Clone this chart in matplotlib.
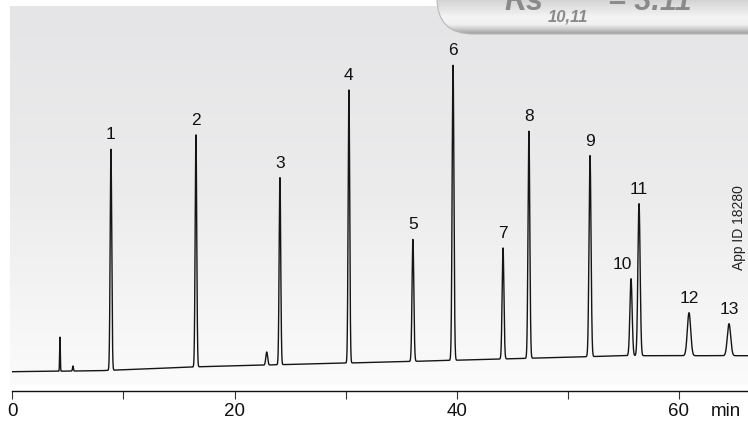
import numpy as np
import matplotlib
matplotlib.use('Agg')
import matplotlib.pyplot as plt
from matplotlib import font_manager
from matplotlib.patches import FancyBboxPatch
from matplotlib.colors import LinearSegmentedColormap

# ---------------- data ----------------
peak_ids = ['1', '2', '3', '4', '5', '6', '7', '8', '9', '10', '11', '12', '13']
peak_times = [8.88, 16.53, 24.09, 30.30, 36.06, 39.67, 44.17, 46.50, 52.00, 55.69, 56.41, 60.91, 64.51]
peak_heights = [221, 232, 187, 273, 122, 295, 111, 227, 201, 77, 152, 43, 32]
peak_sigmas = [0.07, 0.07, 0.07, 0.07, 0.08, 0.08, 0.08, 0.08, 0.09, 0.10, 0.10, 0.15, 0.15]

minor_times = [4.29, 5.46, 22.90]
minor_heights = [34, 5, 13]
minor_sigmas = [0.03, 0.04, 0.08]

baseline_times = [0, 8, 10, 17, 24, 35, 45, 55, 66.2]
baseline_levels = [19, 20, 21, 24, 26, 29, 32, 35, 35]

x_ticks = [0, 10, 20, 30, 40, 50, 60]
x_tick_labels = ['0', '', '20', '', '40', '', '60']
x_unit = 'min'
rs_main = 'Rs'
rs_sub = '10,11'
rs_value = '= 3.11'
app_id = 'App ID 18280'

# ---------------- fonts ----------------
names = {f.name for f in font_manager.fontManager.ttflist}
narrow = 'Liberation Sans Narrow' if 'Liberation Sans Narrow' in names else 'Liberation Sans'
sans = 'Liberation Sans'

W, H = 748, 422
fig = plt.figure(figsize=(W / 100, H / 100), dpi=100)
fig.patch.set_facecolor('white')

# background layer in pixel coordinates
bg = fig.add_axes([0, 0, 1, 1])
bg.set_xlim(0, W)
bg.set_ylim(H, 0)
bg.axis('off')

grad = np.linspace(0, 1, 256).reshape(-1, 1)
panel_cmap = LinearSegmentedColormap.from_list('panel', ['#e5e5e7', '#ececed', '#fbfbfb'])
bg.imshow(grad, cmap=panel_cmap, extent=(10, W, 385, 6), aspect='auto', origin='upper', zorder=0)

# rounded resolution badge in the upper right
badge = FancyBboxPatch((437, -70), 420, 104, boxstyle='round,pad=0,rounding_size=36',
                       facecolor='none', edgecolor='#b8b8b8', linewidth=0.8, zorder=2)
bg.add_patch(badge)
badge_cmap = LinearSegmentedColormap.from_list(
    'badge', [(0.0, '#d4d4d4'), (0.5, '#f4f4f4'), (0.72, '#f0f0f0'), (0.88, '#c4c4c4'), (1.0, '#9c9c9c')])
im = bg.imshow(grad, cmap=badge_cmap, extent=(437, W, 34, 0), aspect='auto', origin='upper', zorder=1)
im.set_clip_path(badge)

txt_kw = dict(color='#8a8a8a', fontweight='bold', style='italic', family=sans, va='baseline', zorder=3)
bg.text(504, 10, rs_main, fontsize=22, **txt_kw)
bg.text(548, 22, rs_sub, fontsize=12, **txt_kw)
bg.text(608, 10, rs_value, fontsize=22, **txt_kw)

bg.text(739, 228, app_id, rotation=90, ha='center', va='center', fontsize=10,
        color='#222222', family=sans, zorder=3)

# ---------------- chromatogram axes ----------------
x0_px, px_per_min, axis_y = 12.3, 11.11, 390.7
t_max = 66.2
ax = fig.add_axes([x0_px / W, (H - axis_y) / H, t_max * px_per_min / W, axis_y / H])
ax.set_facecolor('none')
ax.set_xlim(0, t_max)
ax.set_ylim(0, axis_y)

t = np.linspace(0, t_max, 40000)
signal = np.interp(t, baseline_times, baseline_levels)
for tc, h, s in zip(peak_times + minor_times, peak_heights + minor_heights, peak_sigmas + minor_sigmas):
    signal = signal + h * np.exp(-0.5 * ((t - tc) / s) ** 2)
ax.plot(t, signal, color='#151515', linewidth=1.0, zorder=3)

for pid, tc, h in zip(peak_ids, peak_times, peak_heights):
    top = np.interp(tc, baseline_times, baseline_levels) + h
    dx = -6.5 if pid == '10' else 0
    ax.annotate(pid, (tc, top), xytext=(dx, 5), textcoords='offset points',
                ha='center', va='bottom', fontsize=12.5, family=sans, color='#111111')

for side in ['top', 'right', 'left']:
    ax.spines[side].set_visible(False)
ax.spines['bottom'].set_linewidth(1.0)
ax.spines['bottom'].set_color('#111111')
ax.set_yticks([])
ax.set_xticks(x_ticks)
ax.set_xticklabels(x_tick_labels, fontsize=13.5, family=narrow, color='#111111')
ax.tick_params(axis='x', direction='out', length=5.5, width=0.8, pad=3, color='#333333')

# unit label on the same line as the tick labels
fig.canvas.draw()
bb = ax.get_xticklabels()[6].get_window_extent()
fig.text(726 / W, bb.y1 / H, x_unit, ha='center', va='top',
         fontsize=13.5, family=narrow, color='#111111')

fig.savefig('out.png', dpi=100)
